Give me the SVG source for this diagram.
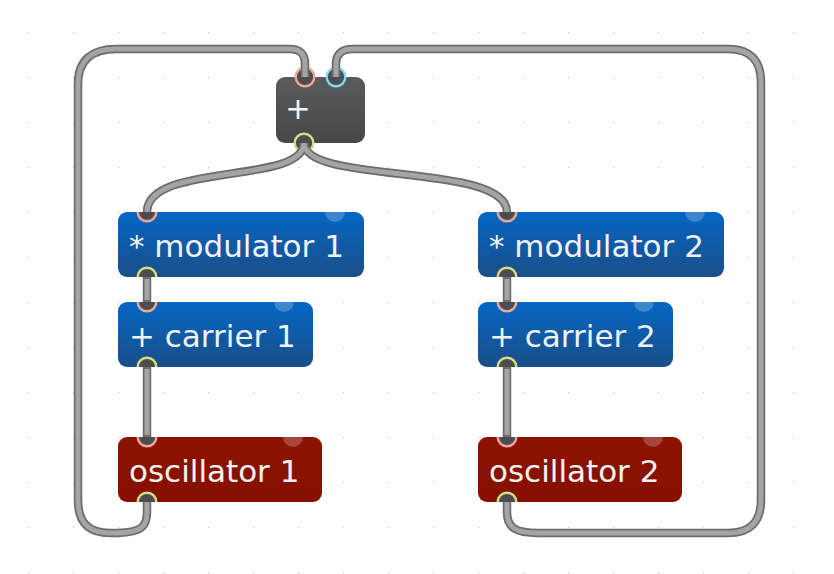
<svg xmlns="http://www.w3.org/2000/svg" width="834" height="574" viewBox="0 0 834 574">
<defs>
<pattern id="grid" patternUnits="userSpaceOnUse" x="28" y="32" width="45" height="45">
<rect x="0" y="0" width="1.2" height="1.2" fill="#c4c4c4"/>
</pattern>
<linearGradient id="gBlue" x1="0" y1="0" x2="0" y2="1">
<stop offset="0" stop-color="#0566c4"/>
<stop offset="1" stop-color="#1a4f89"/>
</linearGradient>
<linearGradient id="gRed" x1="0" y1="0" x2="0" y2="1">
<stop offset="0" stop-color="#8c1300"/>
<stop offset="1" stop-color="#861000"/>
</linearGradient>
<linearGradient id="gGray" x1="0" y1="0" x2="0" y2="1">
<stop offset="0" stop-color="#5a5b5d"/>
<stop offset="1" stop-color="#454749"/>
</linearGradient>
</defs>
<style>
.box{stroke:none}
.blue{fill:url(#gBlue)}
.red{fill:url(#gRed)}
.gray{fill:url(#gGray)}
.lbl{font-family:"DejaVu Sans","Liberation Sans",sans-serif;font-size:31px;fill:#f2f2f4}
.bub{fill:#ffffff;fill-opacity:0.22}
.pfill{fill:#4b4d50}
.ring{fill:none;stroke-width:2.4}
.in{stroke:#f3a698}
.in2{stroke:#86d6ea}
.out{stroke:#d6de7e}
.cordo{fill:none;stroke:#6c6c6c;stroke-width:8.5}
.cordi{fill:none;stroke:#a4a4a4;stroke-width:5}
</style>
<rect x="0" y="0" width="834" height="574" fill="#ffffff"/>
<rect x="0" y="0" width="834" height="574" fill="url(#grid)"/>

<g id="plus">
<rect class="box gray" x="276" y="77" width="89" height="66" rx="9"/>
<text class="lbl" x="285" y="119">+</text>
<circle class="pfill" cx="305" cy="77" r="9.3"/>
<circle class="ring in" cx="305" cy="77" r="9.3"/>
<circle class="pfill" cx="336" cy="77" r="9.3"/>
<circle class="ring in2" cx="336" cy="77" r="9.3"/>
<circle class="pfill" cx="304" cy="143" r="9.3"/>
<circle class="ring out" cx="304" cy="143" r="9.3"/>
</g>

<g id="modulator1">
<rect class="box blue" x="118" y="212" width="246" height="65" rx="9"/>
<path class="bub" d="M325,212 A10 10 0 0 0 345,212 Z"/>
<text class="lbl" x="129" y="257">* modulator 1</text>
<path class="pfill" d="M137.7,212 A9.3 9.3 0 0 0 156.3,212 Z"/>
<path class="ring in" d="M137.7,212 A9.3 9.3 0 0 0 156.3,212"/>
<path class="pfill" d="M137.7,277 A9.3 9.3 0 0 1 156.3,277 Z"/>
<path class="ring out" d="M137.7,277 A9.3 9.3 0 0 1 156.3,277"/>
</g>

<g id="carrier1">
<rect class="box blue" x="118" y="302" width="195" height="65" rx="9"/>
<path class="bub" d="M274,302 A10 10 0 0 0 294,302 Z"/>
<text class="lbl" x="129" y="347">+ carrier 1</text>
<path class="pfill" d="M137.7,302 A9.3 9.3 0 0 0 156.3,302 Z"/>
<path class="ring in" d="M137.7,302 A9.3 9.3 0 0 0 156.3,302"/>
<path class="pfill" d="M137.7,367 A9.3 9.3 0 0 1 156.3,367 Z"/>
<path class="ring out" d="M137.7,367 A9.3 9.3 0 0 1 156.3,367"/>
</g>

<g id="oscillator1">
<rect class="box red" x="118" y="437" width="204" height="65" rx="9"/>
<path class="bub" d="M283,437 A10 10 0 0 0 303,437 Z"/>
<text class="lbl" x="129" y="482">oscillator 1</text>
<path class="pfill" d="M137.7,437 A9.3 9.3 0 0 0 156.3,437 Z"/>
<path class="ring in" d="M137.7,437 A9.3 9.3 0 0 0 156.3,437"/>
<path class="pfill" d="M137.7,502 A9.3 9.3 0 0 1 156.3,502 Z"/>
<path class="ring out" d="M137.7,502 A9.3 9.3 0 0 1 156.3,502"/>
</g>

<g id="modulator2">
<rect class="box blue" x="478" y="212" width="246" height="65" rx="9"/>
<path class="bub" d="M685,212 A10 10 0 0 0 705,212 Z"/>
<text class="lbl" x="489" y="257">* modulator 2</text>
<path class="pfill" d="M497.7,212 A9.3 9.3 0 0 0 516.3,212 Z"/>
<path class="ring in" d="M497.7,212 A9.3 9.3 0 0 0 516.3,212"/>
<path class="pfill" d="M497.7,277 A9.3 9.3 0 0 1 516.3,277 Z"/>
<path class="ring out" d="M497.7,277 A9.3 9.3 0 0 1 516.3,277"/>
</g>

<g id="carrier2">
<rect class="box blue" x="478" y="302" width="195" height="65" rx="9"/>
<path class="bub" d="M634,302 A10 10 0 0 0 654,302 Z"/>
<text class="lbl" x="489" y="347">+ carrier 2</text>
<path class="pfill" d="M497.7,302 A9.3 9.3 0 0 0 516.3,302 Z"/>
<path class="ring in" d="M497.7,302 A9.3 9.3 0 0 0 516.3,302"/>
<path class="pfill" d="M497.7,367 A9.3 9.3 0 0 1 516.3,367 Z"/>
<path class="ring out" d="M497.7,367 A9.3 9.3 0 0 1 516.3,367"/>
</g>

<g id="oscillator2">
<rect class="box red" x="478" y="437" width="204" height="65" rx="9"/>
<path class="bub" d="M643,437 A10 10 0 0 0 663,437 Z"/>
<text class="lbl" x="489" y="482">oscillator 2</text>
<path class="pfill" d="M497.7,437 A9.3 9.3 0 0 0 516.3,437 Z"/>
<path class="ring in" d="M497.7,437 A9.3 9.3 0 0 0 516.3,437"/>
<path class="pfill" d="M497.7,502 A9.3 9.3 0 0 1 516.3,502 Z"/>
<path class="ring out" d="M497.7,502 A9.3 9.3 0 0 1 516.3,502"/>
</g>

<g id="connectors">
<path id="c1" class="cordo" d="M304,143 C304,185 147,162 147,212"/>
<path id="c2" class="cordo" d="M304,143 C304,185 507,162 507,212"/>
<path id="c3" class="cordo" d="M147,277 V302"/>
<path id="c4" class="cordo" d="M147,367 V437"/>
<path id="c5" class="cordo" d="M507,277 V302"/>
<path id="c6" class="cordo" d="M507,367 V437"/>
<path id="c7" class="cordo" d="M147,502 V512 C147,528 140,532 118,533 L110,533 C88,533 78,522 78,500 L78,84 C78,60 92,49 116,49 L290,49 C300,49 305,54 305,64 V77"/>
<path id="c8" class="cordo" d="M507,502 V512 C507,528 516,533 538,533 L728,533 C750,533 761,522 761,500 L761,82 C761,60 750,49 728,49 L352,49 C342,49 336,54 336,64 V77"/>
<path class="cordi" d="M304,143 C304,185 147,162 147,212"/>
<path class="cordi" d="M304,143 C304,185 507,162 507,212"/>
<path class="cordi" d="M147,279 V300"/>
<path class="cordi" d="M147,369 V435"/>
<path class="cordi" d="M507,279 V300"/>
<path class="cordi" d="M507,369 V435"/>
<path class="cordi" d="M147,502 V512 C147,528 140,532 118,533 L110,533 C88,533 78,522 78,500 L78,84 C78,60 92,49 116,49 L290,49 C300,49 305,54 305,64 V77"/>
<path class="cordi" d="M507,502 V512 C507,528 516,533 538,533 L728,533 C750,533 761,522 761,500 L761,82 C761,60 750,49 728,49 L352,49 C342,49 336,54 336,64 V77"/>
</g>
</svg>
